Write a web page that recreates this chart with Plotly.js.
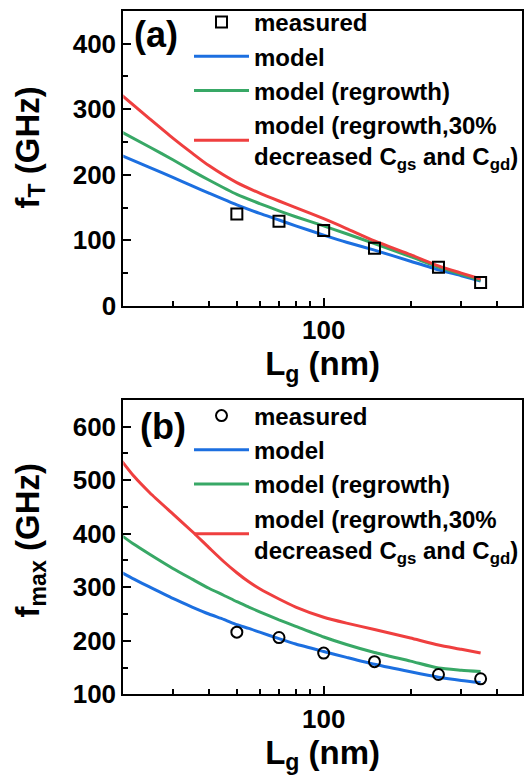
<!DOCTYPE html>
<html><head><meta charset="utf-8">
<script src="https://cdn.plot.ly/plotly-3.0.1.min.js"></script>
<style>html,body{margin:0;padding:0;background:#fff}</style>
</head><body><div id="chart" style="width:524px;height:777px"></div>
<script>
// measured data
const lgMeas = [50, 70, 100, 150, 250, 350];
const fTMeas = [140, 129, 115, 88, 59, 35.5];
const fmaxMeas = [216, 206, 177, 161, 137, 129];

// model curves (a) fT
const lgModelA = [20, 25, 30, 35, 40, 50, 60, 70, 80, 100, 120, 150, 200, 250, 300, 350];
const fTModel = [229, 211, 196, 183, 172, 154, 141, 131, 122, 108, 97, 85, 68, 55, 46, 38];
const fTRegrowth = [265, 242, 223, 206, 192, 170, 156, 145, 136, 122, 110, 95, 75, 59, 48, 39];
const fTRegrowth30 = [321, 285, 256, 233, 214, 188, 172, 160, 150, 133, 118, 99, 78, 61, 50, 41];

// model curves (b) fmax
const lgModelB = [20, 22, 25, 30, 35, 40, 45, 50, 55, 60, 70, 80, 100, 120, 150, 200, 250, 300, 350];
const fmaxModel = [327, 315, 300, 279, 263, 250, 240, 230, 223, 216, 204, 194, 180, 169, 156, 142, 132, 126, 122];
const fmaxRegrowth = [396, 380, 361, 335, 315, 298, 285, 273, 263, 254, 239, 227, 207, 193, 178, 162, 149, 145, 142.5];
const fmaxRegrowth30 = [535, 507, 476, 437, 404, 374, 348, 327, 310, 297, 278, 263, 244, 233, 221, 205, 192, 184, 177];

const names = ['measured', 'model', 'model (regrowth)', 'model (regrowth,30%<br>decreased C<sub>gs</sub> and C<sub>gd</sub>)'];
const colors = ['#000000', '#1c6fe0', '#38a866', '#ef3f3f'];

const W = 524, H = 777;
const FONT = 'Liberation Sans, Arial, sans-serif';

function lineTrace(x, y, i, xa, ya, leg) {
  return {x: x, y: y, xaxis: xa, yaxis: ya, mode: 'lines', name: names[i], legend: leg, legendrank: i + 1,
    line: {color: colors[i], width: 3, shape: 'spline', smoothing: 0.6}, hoverinfo: 'skip'};
}
function markTrace(x, y, sym, xa, ya, leg) {
  return {x: x, y: y, xaxis: xa, yaxis: ya, mode: 'markers', name: names[0], legend: leg, legendrank: 1,
    marker: {symbol: sym, size: 11, color: '#000', line: {color: '#000', width: 2}}};
}

const data = [
  lineTrace(lgModelA, fTModel, 1, 'x', 'y', 'legend'),
  lineTrace(lgModelA, fTRegrowth, 2, 'x', 'y', 'legend'),
  lineTrace(lgModelA, fTRegrowth30, 3, 'x', 'y', 'legend'),
  markTrace(lgMeas, fTMeas, 'square-open', 'x', 'y', 'legend'),
  lineTrace(lgModelB, fmaxModel, 1, 'x2', 'y2', 'legend2'),
  lineTrace(lgModelB, fmaxRegrowth, 2, 'x2', 'y2', 'legend2'),
  lineTrace(lgModelB, fmaxRegrowth30, 3, 'x2', 'y2', 'legend2'),
  markTrace(lgMeas, fmaxMeas, 'circle-open', 'x2', 'y2', 'legend2')
];

const xDom = [123.3 / W, 522 / W];
const minorX = [30, 40, 50, 60, 70, 80, 90, 200, 300, 400];

function xAxis(anchor) {
  return {type: 'log', domain: xDom, anchor: anchor, range: [Math.log10(20.2), Math.log10(487)],
    tickvals: [100], ticktext: ['100'], ticks: 'inside', ticklen: 8, tickwidth: 2, tickcolor: '#000',
    showline: true, linewidth: 2, linecolor: '#000', mirror: true, showgrid: false, zeroline: false,
    tickfont: {family: FONT, size: 26, weight: 'bold', color: '#000'},
    minor: {tickvals: minorX, ticks: 'inside', ticklen: 5, tickwidth: 2, tickcolor: '#000', showgrid: false},
    title: {text: 'L<sub>g</sub> (nm)', font: {family: FONT, size: 33, weight: 'bold', color: '#000'}, standoff: 4},
    automargin: false, fixedrange: true};
}
function yAxis(anchor, dom, range, major, minor) {
  return {domain: dom, anchor: anchor, range: range, tickvals: major, ticks: 'inside', ticklen: 8, tickwidth: 2, tickcolor: '#000',
    showline: true, linewidth: 2, linecolor: '#000', mirror: true, showgrid: false, zeroline: false,
    tickfont: {family: FONT, size: 26, weight: 'bold', color: '#000'},
    minor: {tickvals: minor, ticks: 'inside', ticklen: 5, tickwidth: 2, tickcolor: '#000', showgrid: false},
    automargin: false, fixedrange: true};
}

const legendBase = {xanchor: 'left', yanchor: 'top', bgcolor: 'rgba(0,0,0,0)', borderwidth: 0,
  font: {family: FONT, size: 24, weight: 'bold', color: '#000'}, itemwidth: 55, tracegroupgap: 0, traceorder: 'normal'};

const layout = {
  width: W, height: H, margin: {l: 0, r: 0, t: 0, b: 0},
  paper_bgcolor: '#fff', plot_bgcolor: '#fff',
  font: {family: FONT, color: '#000', weight: 'bold'},
  showlegend: true,
  xaxis: xAxis('y'),
  yaxis: yAxis('x', [1 - 304 / H, 1 - 8 / H], [0, 450], [0, 100, 200, 300, 400], [50, 150, 250, 350]),
  xaxis2: xAxis('y2'),
  yaxis2: yAxis('x2', [1 - 694 / H, 1 - 398.3 / H], [100, 650], [100, 200, 300, 400, 500, 600], [150, 250, 350, 450, 550]),
  legend: Object.assign({x: 189 / W, y: 1 + 3 / H}, legendBase),
  legend2: Object.assign({x: 189 / W, y: 1 - 392 / H}, legendBase),
  annotations: [
    {text: 'f<sub>T</sub> (GHz)', xref: 'paper', yref: 'paper', x: 30 / W, y: 1 - 145 / H, textangle: -90,
      showarrow: false, xanchor: 'center', yanchor: 'middle', font: {family: FONT, size: 33, weight: 'bold', color: '#000'}},
    {text: 'f<sub>max</sub> (GHz)', xref: 'paper', yref: 'paper', x: 30 / W, y: 1 - 539.5 / H, textangle: -90,
      showarrow: false, xanchor: 'center', yanchor: 'middle', font: {family: FONT, size: 33, weight: 'bold', color: '#000'}},
    {text: '(a)', xref: 'paper', yref: 'paper', x: 156 / W, y: 1 - 32 / H, showarrow: false,
      xanchor: 'center', yanchor: 'middle', font: {family: FONT, size: 36, weight: 'bold', color: '#000'}},
    {text: '(b)', xref: 'paper', yref: 'paper', x: 163 / W, y: 1 - 425 / H, showarrow: false,
      xanchor: 'center', yanchor: 'middle', font: {family: FONT, size: 36, weight: 'bold', color: '#000'}}
  ]
};

Plotly.newPlot('chart', data, layout, {displayModeBar: false, staticPlot: true});
</script></body></html>
